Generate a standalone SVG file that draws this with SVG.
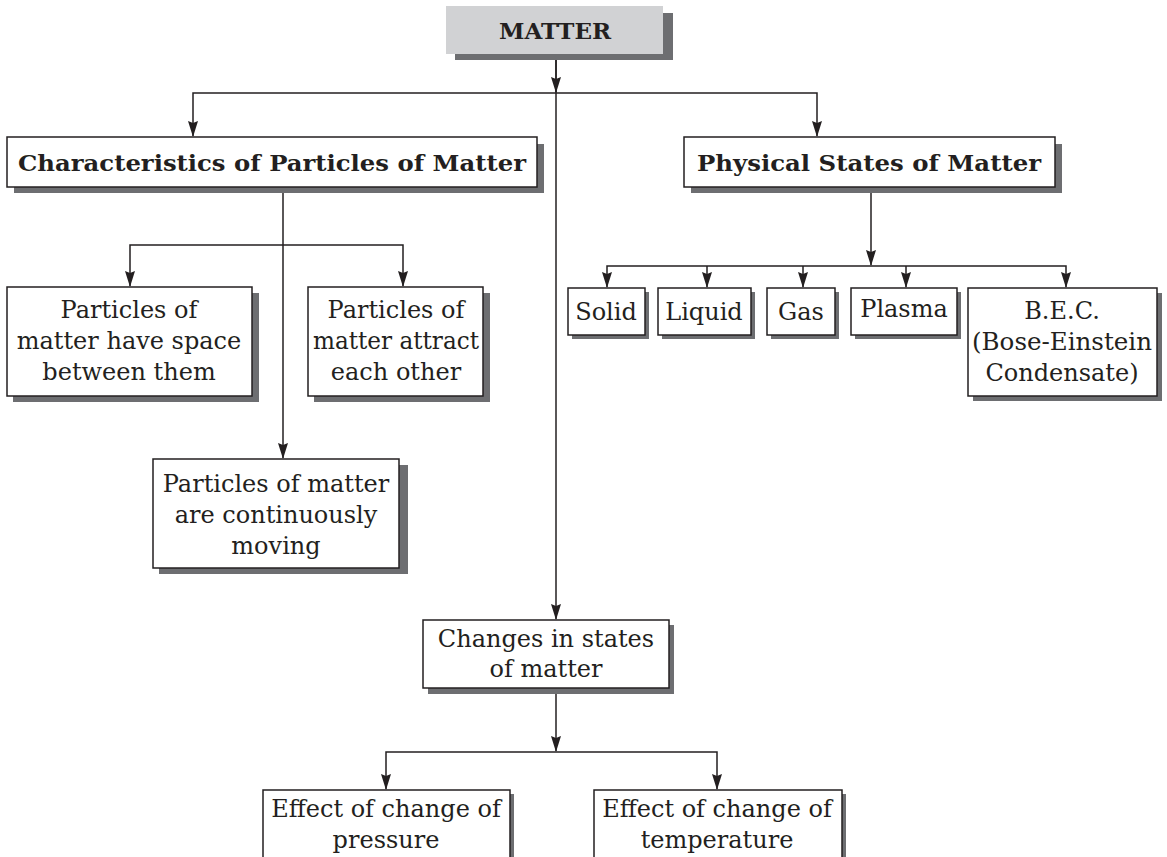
<svg xmlns="http://www.w3.org/2000/svg" width="1167" height="857" viewBox="0 0 1167 857">
<style>
.box{fill:#fff;stroke:#231f20;stroke-width:1.5}
.shd{fill:#6d6e71}
.t{font-family:"DejaVu Serif","Liberation Serif",serif;font-size:24px;fill:#231f20;text-anchor:middle}
.b{font-family:"DejaVu Serif","Liberation Serif",serif;font-size:23px;font-weight:bold;fill:#231f20;text-anchor:middle}
.c{fill:none;stroke:#231f20;stroke-width:1.5}
</style>
<defs>
<marker id="ah" markerUnits="userSpaceOnUse" markerWidth="16" markerHeight="12" refX="15" refY="5" orient="auto-start-reverse" viewBox="0 0 16 10">
<path d="M0,0 L2,5 L0,10 L16,5 Z" fill="#231f20"/>
</marker>
</defs>
<rect width="1167" height="857" fill="#fff"/>

<g id="connectors">
<line class="c" x1="556" y1="55" x2="556" y2="619" marker-end="url(#ah)"/>
<line class="c" x1="556" y1="55" x2="556" y2="92" marker-end="url(#ah)"/>
<polyline class="c" points="193,136 193,93 817,93 817,136" marker-start="url(#ah)" marker-end="url(#ah)"/>
<line class="c" x1="283" y1="187" x2="283" y2="458" marker-end="url(#ah)"/>
<polyline class="c" points="130,286 130,245 403,245 403,286" marker-start="url(#ah)" marker-end="url(#ah)"/>
<line class="c" x1="871" y1="187" x2="871" y2="265" marker-end="url(#ah)"/>
<polyline class="c" points="607,287 607,266 1066,266 1066,287" marker-start="url(#ah)" marker-end="url(#ah)"/>
<line class="c" x1="707" y1="266" x2="707" y2="287" marker-end="url(#ah)"/>
<line class="c" x1="803" y1="266" x2="803" y2="287" marker-end="url(#ah)"/>
<line class="c" x1="906" y1="266" x2="906" y2="287" marker-end="url(#ah)"/>
<line class="c" x1="556" y1="688" x2="556" y2="751" marker-end="url(#ah)"/>
<polyline class="c" points="386,789 386,752 717,752 717,789" marker-start="url(#ah)" marker-end="url(#ah)"/>
</g>

<g id="matter">
<rect class="shd" x="455" y="13" width="218" height="47"/>
<rect x="446" y="6" width="217" height="48" fill="#d1d2d4"/>
<text class="b" x="555" y="39" font-size="23">MATTER</text>
</g>

<g id="characteristics">
<rect class="shd" x="14" y="144" width="530" height="49"/>
<rect class="box" x="7" y="137" width="530" height="50"/>
<text class="b" x="272" y="171" textLength="508" lengthAdjust="spacingAndGlyphs">Characteristics of Particles of Matter</text>
</g>

<g id="physical">
<rect class="shd" x="691" y="144" width="371" height="49"/>
<rect class="box" x="684" y="137" width="371" height="50"/>
<text class="b" x="869" y="171" textLength="344" lengthAdjust="spacingAndGlyphs">Physical States of Matter</text>
</g>

<g id="space">
<rect class="shd" x="13" y="293" width="246" height="109"/>
<rect class="box" x="7" y="287" width="245" height="109"/>
<text class="t" x="129" y="318">Particles of</text>
<text class="t" x="129" y="349">matter have space</text>
<text class="t" x="129" y="380">between them</text>
</g>

<g id="attract">
<rect class="shd" x="314" y="293" width="176" height="109"/>
<rect class="box" x="308" y="287" width="175" height="109"/>
<text class="t" x="396" y="318">Particles of</text>
<text class="t" x="396" y="349" textLength="166" lengthAdjust="spacingAndGlyphs">matter attract</text>
<text class="t" x="396" y="380">each other</text>
</g>

<g id="moving">
<rect class="shd" x="159" y="465" width="249" height="109"/>
<rect class="box" x="153" y="459" width="246" height="109"/>
<text class="t" x="276" y="492">Particles of matter</text>
<text class="t" x="276" y="523">are continuously</text>
<text class="t" x="276" y="554">moving</text>
</g>

<g id="solid">
<rect class="shd" x="572" y="292" width="77" height="47"/>
<rect class="box" x="568" y="288" width="77" height="47"/>
<text class="t" x="606" y="320">Solid</text>
</g>

<g id="liquid">
<rect class="shd" x="662" y="292" width="93" height="47"/>
<rect class="box" x="658" y="288" width="93" height="47"/>
<text class="t" x="704" y="320">Liquid</text>
</g>

<g id="gas">
<rect class="shd" x="771" y="292" width="68" height="47"/>
<rect class="box" x="767" y="288" width="68" height="47"/>
<text class="t" x="801" y="320">Gas</text>
</g>

<g id="plasma">
<rect class="shd" x="855" y="292" width="106" height="47"/>
<rect class="box" x="851" y="288" width="106" height="47"/>
<text class="t" x="904" y="317">Plasma</text>
</g>

<g id="bec">
<rect class="shd" x="973" y="293" width="189" height="108"/>
<rect class="box" x="968" y="288" width="189" height="108"/>
<text class="t" x="1062" y="319">B.E.C.</text>
<text class="t" x="1062" y="350" textLength="180" lengthAdjust="spacingAndGlyphs">(Bose-Einstein</text>
<text class="t" x="1062" y="381">Condensate)</text>
</g>

<g id="changes">
<rect class="shd" x="428" y="625" width="246" height="69"/>
<rect class="box" x="423" y="620" width="246" height="68"/>
<text class="t" x="546" y="647">Changes in states</text>
<text class="t" x="546" y="677">of matter</text>
</g>

<g id="pressure">
<rect class="shd" x="510" y="794" width="4" height="70"/>
<path class="box" d="M263,870 L263,790 L510,790 L510,870"/>
<text class="t" x="386" y="817">Effect of change of</text>
<text class="t" x="386" y="848">pressure</text>
</g>

<g id="temperature">
<rect class="shd" x="842" y="794" width="4" height="70"/>
<path class="box" d="M594,870 L594,790 L842,790 L842,870"/>
<text class="t" x="717" y="817">Effect of change of</text>
<text class="t" x="717" y="848">temperature</text>
</g>
</svg>
